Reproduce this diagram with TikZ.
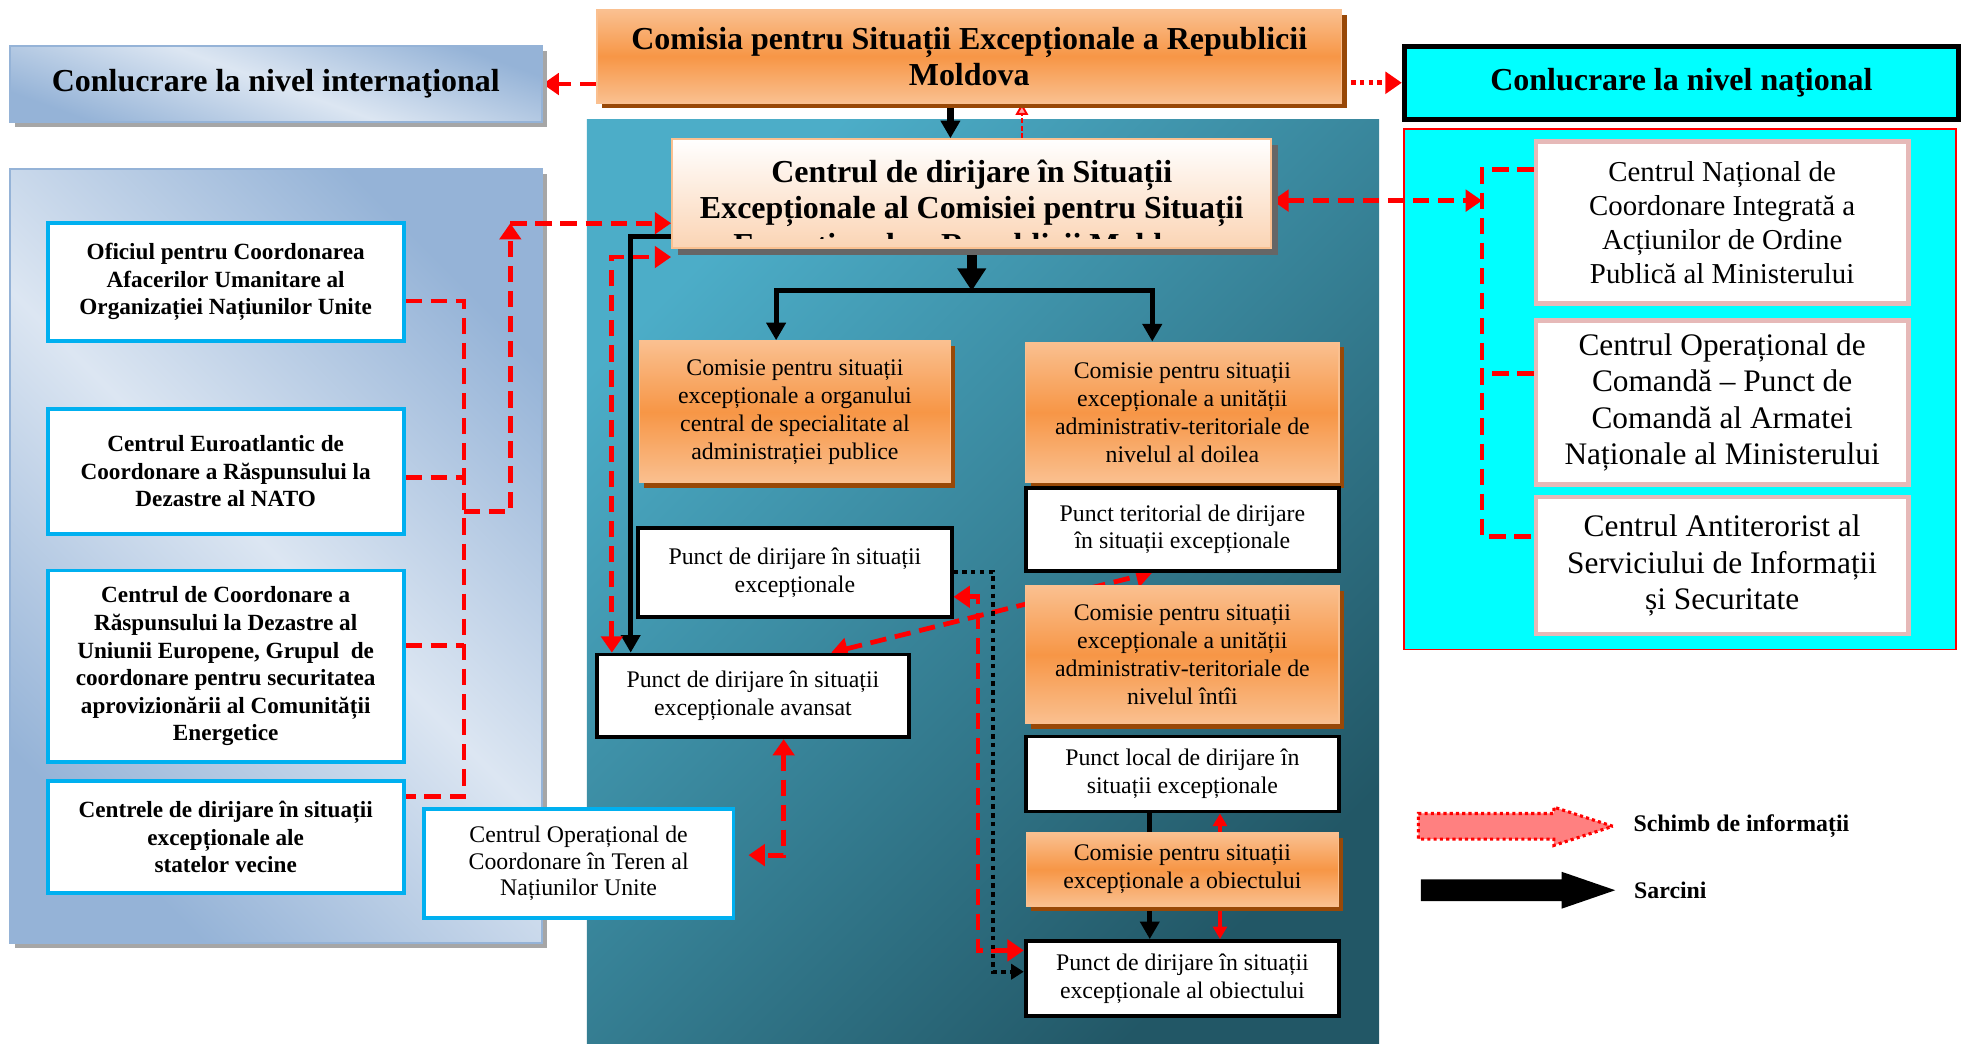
\documentclass[tikz,border=0pt]{standalone}
\usepackage{fontspec}
\setmainfont{Liberation Serif}
\usetikzlibrary{arrows.meta,positioning,shadows,shapes.arrows}
\definecolor{org}{HTML}{F79646}
\definecolor{orgl}{HTML}{FAC090}
\definecolor{orgd}{HTML}{984807}
\definecolor{peach}{HTML}{FBD4B4}
\definecolor{bluel}{HTML}{DCE6F2}
\definecolor{blued}{HTML}{95B3D7}
\definecolor{tealL}{HTML}{4CADC8}
\definecolor{tealD}{HTML}{225766}
\definecolor{skyb}{HTML}{00B0F0}
\definecolor{rosy}{HTML}{E6B9B8}
\definecolor{aqua}{HTML}{00FFFF}
\pgfdeclarelayer{bg}
\pgfdeclarelayer{conn}
\pgfsetlayers{bg,conn,main}

\begin{document}
\begin{tikzpicture}[x=1pt,y=-1pt,
  sz/.style 2 args={minimum width=#1,minimum height=#2,inner sep=0pt,align=center},
  hd/.style={font=\bfseries\fontsize{25.5}{29}\selectfont},
  orng/.style={draw=orgl,line width=1.2pt,top color=orgl,bottom color=orgl,middle color=org,
    drop shadow={shadow xshift=4pt,shadow yshift=-4pt,fill=orgd,opacity=1},font=\fontsize{19}{22.3}\selectfont},
  wbox/.style={draw,line width=3pt,fill=white,font=\fontsize{19}{22}\selectfont},
  lbox/.style={draw=skyb,line width=3pt,fill=white,font=\bfseries\fontsize{18.5}{22}\selectfont},
  rbox/.style={draw=rosy,line width=3.5pt,fill=white,font=\fontsize{25}{29}\selectfont},
  info/.style={red,line width=3.8pt,dash pattern=on 13pt off 7pt,>={Triangle[length=13pt,width=17pt]}},
  task/.style={line width=4pt,>={Triangle[length=14pt,width=15pt]}}]
\useasboundingbox (0,0) rectangle (1568,836);

\node[sz={594pt}{74pt},orng,hd] (csr) at (773,45) {Comisia pentru Situații Excepționale a Republicii\\Moldova};
\node[sz={424pt}{60pt},draw=blued,line width=1.5pt,top color=blued,bottom color=blued,middle color=bluel,shading angle=-20,
  drop shadow={shadow xshift=4pt,shadow yshift=-4pt,fill=black!35,opacity=1},hd] (ih) at (220,67) {Conlucrare la nivel internaţional};
\node[sz={442pt}{58pt},draw,line width=4pt,fill=aqua,hd] (nh) at (1341,66) {Conlucrare la nivel naţional};

\node[sz={478pt}{87pt},draw=orgl,line width=1.5pt,top color=white,bottom color=peach,
  drop shadow={shadow xshift=5pt,shadow yshift=-5pt,fill=black!60,opacity=1}] (cdsc) at (775,154.5) {};
\begin{scope}
\clip (cdsc.north west) rectangle (cdsc.east |- 0,190);
\node[anchor=north,hd,align=center,inner sep=0pt] (cdt) at (775,127.4) {Centrul de dirijare în Situații\\Excepționale al Comisiei pentru Situații\\Excepționale a Republicii Moldova};
\end{scope}

\node[lbox,sz={284pt}{94pt}] (la) at (180,225) {Oficiul pentru Coordonarea\\Afacerilor Umanitare al\\Organizației Națiunilor Unite};
\node[lbox,sz={284pt}{100pt},below=51pt of la] (lb) {Centrul Euroatlantic de\\Coordonare a Răspunsului la\\Dezastre al NATO};
\node[lbox,sz={284pt}{153pt},below=26pt of lb] (lc) {Centrul de Coordonare a\\Răspunsului la Dezastre al\\Uniunii Europene, Grupul\ \ de\\coordonare pentru securitatea\\aprovizionării al Comunității\\Energetice};
\node[lbox,sz={284pt}{89pt},below=12pt of lc] (ld) {Centrele de dirijare în situații\\excepționale ale\\statelor vecine};
\node[lbox,sz={247pt}{87pt},font=\fontsize{19}{21.5}\selectfont] (le) at (461.5,688.5) {Centrul Operațional de\\Coordonare în Teren al\\Națiunilor Unite};

\node[rbox,sz={297pt}{129pt},font=\fontsize{23}{27}\selectfont] (ra) at (1373.5,177.5) {Centrul Național de\\Coordonare Integrată a\\Acțiunilor de Ordine\\Publică al Ministerului};
\node[rbox,sz={297pt}{131pt},below=10pt of ra] (rb) {Centrul Operațional de\\Comandă – Punct de\\Comandă al Armatei\\Naționale al Ministerului};
\node[rbox,sz={297pt}{109pt},below=6.5pt of rb] (rc) {Centrul Antiterorist al\\Serviciului de Informații\\și Securitate};

\node[orng,sz={248pt}{113pt}] (ma) at (634,328.5) {Comisie pentru situații\\excepționale a organului\\central de specialitate al\\administrației publice};
\node[wbox,sz={250pt}{71pt},below=34pt of ma] (md) {Punct de dirijare în situații\\excepționale};
\node[wbox,sz={249pt}{66pt}] (mf) at (600.5,555) {Punct de dirijare în situații\\excepționale avansat};
\node[orng,sz={250pt}{112pt}] (mb) at (943,329) {Comisie pentru situații\\excepționale a unității\\administrativ-teritoriale de\\nivelul al doilea};
\node[wbox,sz={250pt}{66pt},below=2pt of mb] (mc) {Punct teritorial de dirijare\\în situații excepționale};
\node[orng,sz={250pt}{110pt},below=10pt of mc] (me) {Comisie pentru situații\\excepționale a unității\\administrativ-teritoriale de\\nivelul întîi};
\node[wbox,sz={250pt}{60pt},below=8pt of me] (mg) {Punct local de dirijare în\\situații excepționale};
\node[orng,sz={249pt}{58pt},below=15pt of mg] (mh) {Comisie pentru situații\\excepționale a obiectului};
\node[wbox,sz={250pt}{60pt},below=26pt of mh] (mi) {Punct de dirijare în situații\\excepționale al obiectului};

\node[single arrow,draw=red,line width=2.5pt,dash pattern=on 2.5pt off 2.5pt,fill=red!50,minimum height=155pt,
  inner xsep=0pt,inner ysep=9pt,single arrow head extend=5pt,single arrow tip angle=36,anchor=west] (lgi) at (1130,659) {};
\node[right=9pt of lgi.east,font=\bfseries\fontsize{19}{22}\selectfont] (lgit) {Schimb de informații};
\node[single arrow,fill=black,minimum height=155pt,inner xsep=0pt,inner ysep=8.5pt,single arrow head extend=6pt,
  single arrow tip angle=38,anchor=west] (lgs) at (1133,710) {};
\node[right=11pt of lgs.east,font=\bfseries\fontsize{19}{22}\selectfont] (lgst) {Sarcini};

\begin{pgfonlayer}{bg}
\fill[white] (0,0) rectangle (1568,836);
\shade[top color=tealL,bottom color=tealD,shading angle=45] (468,95) rectangle (1100,832);
\fill[black!35] (12,139) rectangle (436,756);
\shade[top color=blued,bottom color=blued,middle color=bluel,shading angle=-45] (8,135) rectangle (432,752);
\draw[blued,line width=1.5pt] (8,135) rectangle (432,752);
\filldraw[fill=aqua,draw=red,line width=1.5pt] (1120,103) rectangle (1560,518);
\end{pgfonlayer}

\begin{pgfonlayer}{conn}
\draw[info,->] (csr.west |- ih.east) -- (ih.east);
\draw[info,->,dash pattern=on 3.5pt off 3.5pt] (csr.east |- nh.west) -- (nh.west);
\draw[task,->,line width=5pt] (csr.south -| 758,0) -- (cdsc.north -| 758,0);
\draw[red,line width=1.5pt,dash pattern=on 4pt off 2pt,-{Triangle[length=9pt,width=10pt,fill=red!35]}] (cdsc.north -| 815,0) -- (csr.south -| 815,0);
\coordinate (j) at (775,232);
\draw[task,->,line width=8pt,>={Triangle[length=18pt,width=22pt]}] (cdsc.south -| j) -- (j);
\draw[task,<->] (ma.north -| 619,0) |- (j) -| (mb.north -| 919,0);
\draw[task,->] (cdsc.west |- 0,189) -| (mf.north -| 503,0);
\draw[info,<->] (mf.north -| 488,0) |- (cdsc.west |- 0,205);
\draw[info] (la.east |- 0,240) -| (370,635) -- (ld.east |- 0,635);
\draw[info] (lb.east |- 0,381) -- (370,381);
\draw[info] (lc.east |- 0,515) -- (370,515);
\draw[info,->] (370,408) -| (407,178);
\draw[info,->] (407,178) -- (cdsc.west |- 0,178);
\draw[info,<->] (mf.south -| 625,0) |- (597,682);
\draw[info,<->] (mf.north -| 663,0) -- (mc.south -| 919,0);
\draw[info,<->] (md.east |- 0,476) -| (780,758) -- (mi.west |- 0,758);
\draw[line width=3.5pt,dash pattern=on 3.5pt off 3.5pt,->,>={Triangle[length=10pt,width=12pt]}] (md.east |- 0,456) -| (792,775) -- (mi.west |- 0,775);
\draw[line width=4pt] (mg.south -| 917,0) -- (mh.north -| 917,0);
\draw[red,line width=3pt,->,>={Triangle[length=10pt,width=11pt]}] (mh.north -| 973,0) -- (mg.south -| 973,0);
\draw[task,->] (mh.south -| 917,0) -- (mi.north -| 917,0);
\draw[red,line width=3pt,->,>={Triangle[length=10pt,width=11pt]}] (mh.south -| 973,0) -- (mi.north -| 973,0);
\draw[info,<->] (cdsc.east |- 0,160) -- (1182,160);
\draw[info] (ra.west |- 0,135) -| (1182,428) -- (rc.west |- 0,428);
\draw[info] (rb.west |- 0,298) -- (1182,298);
\end{pgfonlayer}
\end{tikzpicture}
\end{document}
